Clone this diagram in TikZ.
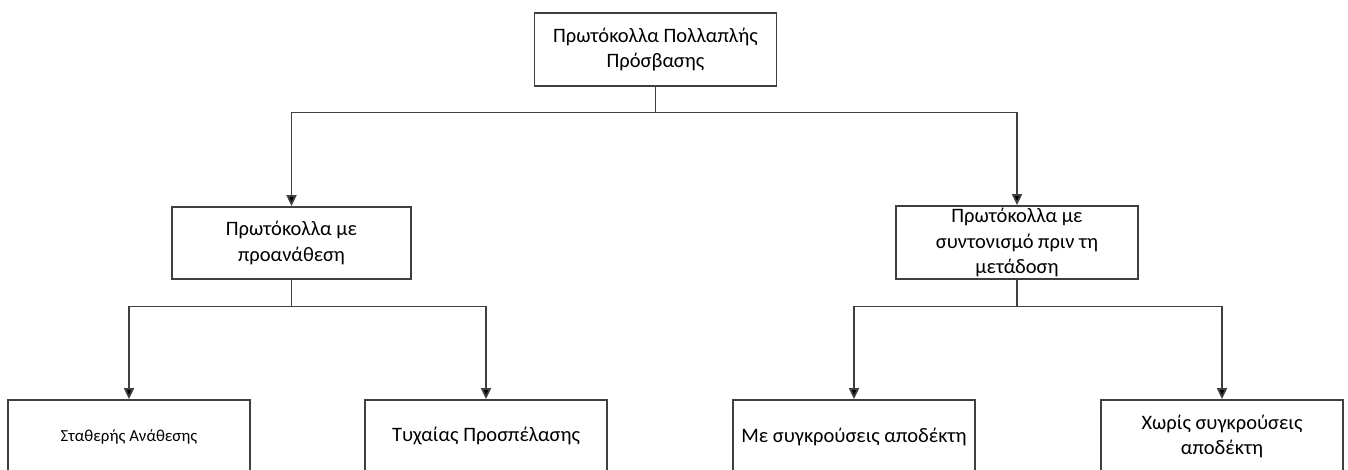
\documentclass[tikz,border=0pt]{standalone}
\usepackage{fontspec}
\setmainfont{Carlito}
\usetikzlibrary{arrows.meta}
\definecolor{linegray}{HTML}{3F3F3F}
\tikzset{
  box/.style={draw=linegray, line width=1.8pt, fill=white, inner sep=0pt, align=center, minimum width=242pt, minimum height=73pt, font=\fontsize{20.5}{25.5}\selectfont},
  smallbox/.style={box, font=\fontsize{16.8}{20}\selectfont},
  arr/.style={draw=linegray, line width=1.8pt, -{Triangle[length=11pt,width=10pt,fill=black]}},
}
\begin{document}
\begin{tikzpicture}[x=1pt,y=-1pt]
\useasboundingbox (0,0) rectangle (1348,470);
\clip (0,0) rectangle (1348,470);
\node[box] (top) at (655.5,49.5) {Πρωτόκολλα Πολλαπλής\\Πρόσβασης};
\node[box, minimum width=239pt, minimum height=72pt] (ml) at (291.5,243) {Πρωτόκολλα με\\προανάθεση};
\node[box] (mr) at (1017,242.5) {Πρωτόκολλα με\\συντονισμό πριν τη\\μετάδοση};
\node[smallbox] (b1) at (129,436.5) {Σταθερής Ανάθεσης};
\node[box] (b2) at (486,436.5) {Τυχαίας Προσπέλασης};
\node[box] (b3) at (854,436.5) {Με συγκρούσεις αποδέκτη};
\node[box] (b4) at (1222,436.5) {Χωρίς συγκρούσεις\\αποδέκτη};
\coordinate (bus1) at (655.5,112.5);
\coordinate (bus2) at (291.5,306.5);
\coordinate (bus3) at (1017,306.5);
\draw[arr] (top.south) -- (bus1) -| (ml.north);
\draw[arr] (bus1) -| (mr.north);
\draw[arr] (ml.south) -- (bus2) -| (b1.north);
\draw[arr] (bus2) -| (b2.north);
\draw[arr] (mr.south) -- (bus3) -| (b3.north);
\draw[arr] (bus3) -| (b4.north);
\end{tikzpicture}
\end{document}
